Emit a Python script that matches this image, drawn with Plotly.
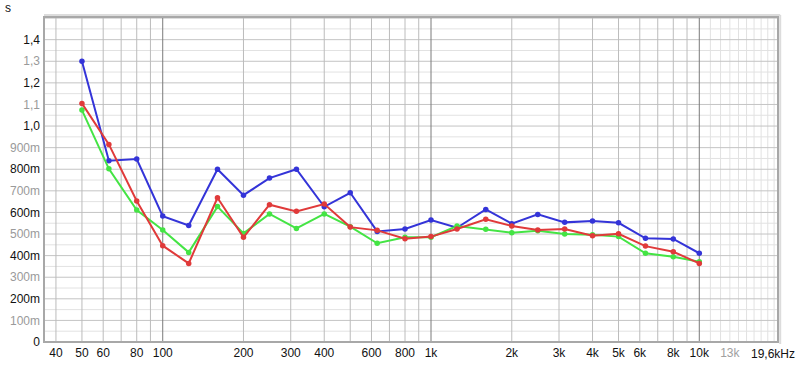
import math
import plotly.graph_objects as go

freqs = [50, 63, 80, 100, 125, 160, 200, 250, 315, 400, 500, 630, 800, 1000,
         1250, 1600, 2000, 2500, 3150, 4000, 5000, 6300, 8000, 10000]
blue = [1.30, 0.839, 0.847, 0.583, 0.540, 0.800, 0.680, 0.759, 0.800, 0.626,
        0.691, 0.512, 0.523, 0.565, 0.529, 0.614, 0.548, 0.591, 0.554, 0.560,
        0.552, 0.480, 0.477, 0.411]
red = [1.105, 0.915, 0.653, 0.446, 0.364, 0.668, 0.485, 0.636, 0.605, 0.639,
       0.532, 0.517, 0.478, 0.488, 0.523, 0.568, 0.537, 0.519, 0.523, 0.492,
       0.501, 0.444, 0.418, 0.364]
green = [1.074, 0.802, 0.611, 0.519, 0.415, 0.627, 0.503, 0.593, 0.526, 0.593,
         0.534, 0.457, 0.485, 0.485, 0.537, 0.522, 0.506, 0.515, 0.500, 0.497,
         0.488, 0.411, 0.395, 0.372]

x_tick_vals = [40, 50, 60, 80, 100, 200, 300, 400, 600, 800, 1000, 2000, 3000,
               4000, 5000, 6000, 8000, 10000, 13000]
x_tick_text = ["40", "50", "60", "80", "100", "200", "300", "400", "600", "800",
               "1k", "2k", "3k", "4k", "5k", "6k", "8k", "10k",
               "<span style='color:#a0a0a0'>13k</span>"]
x_end_label = "19,6kHz"
y_tick_vals = [0, 0.1, 0.2, 0.3, 0.4, 0.5, 0.6, 0.7, 0.8, 0.9, 1.0, 1.1, 1.2, 1.3, 1.4]
y_tick_text = ["0", "100m", "200m", "300m", "400m", "500m", "600m", "700m",
               "800m", "900m", "1,0", "1,1", "1,2", "1,3", "1,4"]

x_grid = [40, 50, 60, 70, 80, 90, 200, 300, 400, 500, 600, 700, 800, 900,
          2000, 3000, 4000, 5000, 6000, 7000, 8000, 9000]
x_grid_decade = [100, 1000, 10000]
x_grid_high = [11000, 12000, 13000, 14000, 15000, 16000, 17000, 18000, 19000]
y_grid_major = [0.1 * i for i in range(1, 16)]
y_grid_minor = [0.05 + 0.1 * i for i in range(15)]

X_MIN, X_MAX = 36.1, 19650
Y_MAX = 1.505

fig = go.Figure()
shapes = []
for v in y_grid_minor:
    shapes.append(dict(type="line", xref="paper", yref="y", x0=0, x1=1, y0=v, y1=v,
                       line=dict(color="#e2e2e2", width=1), layer="below"))
for v in x_grid_high:
    shapes.append(dict(type="line", xref="x", yref="paper", x0=v, x1=v, y0=0, y1=1,
                       line=dict(color="#e2e2e2", width=1), layer="below"))
for v in y_grid_major:
    shapes.append(dict(type="line", xref="paper", yref="y", x0=0, x1=1, y0=v, y1=v,
                       line=dict(color="#c4c4c4", width=1), layer="below"))
for v in x_grid:
    shapes.append(dict(type="line", xref="x", yref="paper", x0=v, x1=v, y0=0, y1=1,
                       line=dict(color="#bcbcbc", width=1), layer="below"))
for v in x_grid_decade:
    shapes.append(dict(type="line", xref="x", yref="paper", x0=v, x1=v, y0=0, y1=1,
                       line=dict(color="#7a7a7a", width=1), layer="below"))
# frame
shapes.append(dict(type="rect", xref="paper", yref="paper", x0=0, x1=1, y0=0, y1=1,
                   line=dict(color="#a8a8a8", width=2), layer="above"))
shapes.append(dict(type="line", xref="paper", yref="paper", x0=0, x1=1.003, y0=1.006, y1=1.006,
                   line=dict(color="#dcdcdc", width=2), layer="above"))
shapes.append(dict(type="line", xref="paper", yref="paper", x0=1.003, x1=1.003, y0=-0.006, y1=1.006,
                   line=dict(color="#dcdcdc", width=2), layer="above"))

for name, vals, col in [("blue", blue, "#3434d8"), ("green", green, "#44e444"), ("red", red, "#e03a3a")]:
    fig.add_trace(go.Scatter(x=freqs, y=vals, mode="lines+markers", name=name,
                             line=dict(color=col, width=2),
                             marker=dict(color=col, size=5.5)))

fig.update_layout(
    width=800, height=366,
    margin=dict(l=44, r=22, t=17, b=24, autoexpand=False),
    paper_bgcolor="white", plot_bgcolor="white",
    showlegend=False,
    shapes=shapes,
    font=dict(family="Liberation Sans, Arial", size=12, color="#111111"),
    annotations=[
        dict(text="s", xref="paper", yref="paper", x=-0.049, y=1.028,
             xanchor="center", yanchor="middle", showarrow=False,
             font=dict(size=12, color="#111111")),
        dict(text=x_end_label, xref="paper", yref="paper", x=0.993, y=-0.037,
             xanchor="center", yanchor="middle", showarrow=False,
             font=dict(size=12, color="#111111")),
    ],
)
fig.update_xaxes(type="log", range=[math.log10(X_MIN), math.log10(X_MAX)],
                 tickvals=x_tick_vals, ticktext=x_tick_text, showgrid=False,
                 zeroline=False, showline=False, ticks="", tickfont=dict(size=12),
                 automargin=False, ticklabelstandoff=2)
y_text_colored = [t if i % 2 == 0 else "<span style='color:#9a9a9a'>" + t + "</span>"
                  for i, t in enumerate(y_tick_text)]
fig.update_yaxes(range=[0, Y_MAX], tickvals=y_tick_vals, ticktext=y_text_colored,
                 showgrid=False, zeroline=False, showline=False, ticks="",
                 tickfont=dict(size=12), automargin=False, ticklabelstandoff=3)

fig.write_html("out.html", config={"displayModeBar": False},
               post_script="document.body.style.margin='0';")
